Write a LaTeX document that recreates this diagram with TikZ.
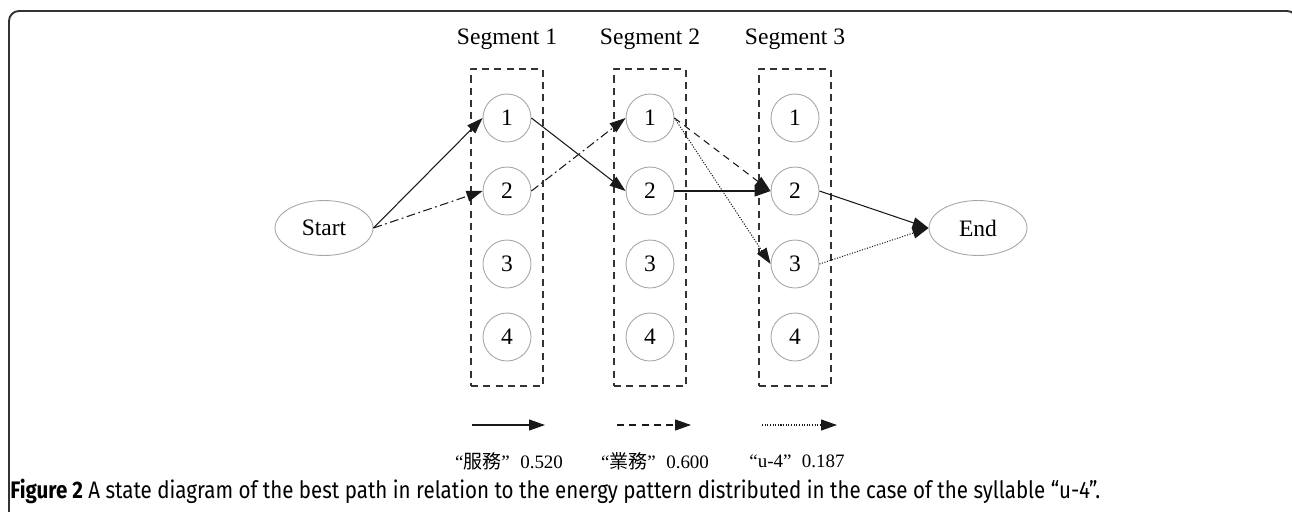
\documentclass[tikz,border=0pt]{standalone}
\usepackage{fontspec}
\setmainfont{Liberation Serif}
\newfontfamily\cjk{Noto Sans CJK TC}
\newfontfamily\capfont[FakeStretch=0.86]{Fira Sans}
\usetikzlibrary{arrows.meta,shapes.geometric}

\begin{document}
\begin{tikzpicture}[x=0.02cm, y=-0.02cm, font=\fontsize{13.4}{16}\selectfont,
        line join=round, >={Triangle[length=0.32cm,width=0.22cm]},
        state/.style={circle, draw=gray!70, line width=0.5pt, minimum size=0.96cm, inner sep=0pt},
        term/.style={ellipse, draw=gray!70, line width=0.5pt, minimum width=1.96cm, minimum height=1.1cm, inner sep=0pt},
        segbox/.style={draw=black!80, line width=0.8pt, dash pattern=on 4pt off 3pt, minimum width=1.44cm, minimum height=6.34cm, inner sep=0pt},
        edge/.style={->, line width=0.6pt, black!90},
        dashdot/.style={dash pattern=on 5pt off 2pt on 1pt off 2pt},
        ldash/.style={dash pattern=on 4pt off 3pt},
        ldot/.style={dash pattern=on 0.6pt off 0.9pt},
        keylab/.style={font=\fontsize{10.8}{13}\selectfont}]
    \useasboundingbox (0,0) rectangle (1292,511);
    % frame round the figure
    \begin{scope}
        \clip (0,0) rectangle (1292,511);
        \draw[line width=1.1pt, black!80, rounded corners=0.2cm] (9,530) -- (9,11) -- (1297,11) -- (1297,530);
    \end{scope}
    % the three segments with their states
    \foreach \s/\x in {1/507, 2/650, 3/795} {
        \node[segbox] (seg\s) at (\x,227.5) {};
        \node (lab\s) at (\x,39) {Segment \s};
        \foreach \r/\y in {1/118, 2/191, 3/264, 4/337}
            \node[state] (s\s\r) at (\x,\y) {\r};
    }
    \node[term] (start) at (324,228) {Start};
    \node[term] (end) at (978,228) {End};
    % paths
    \draw[edge] (start.east) -- (s11.west);
    \draw[edge, dashdot] (start.east) -- (s12.west);
    \draw[edge] (s11.east) -- (s22.west);
    \draw[edge, dashdot] (s12.east) -- (s21.west);
    \draw[edge, ldash] (s21.east) -- (s32.west);
    \draw[edge, ldot] (s21.east) -- (s33.west);
    \draw[edge] (s22.east) -- (s32.west);
    \draw[edge] (s32.east) -- (end.west);
    \draw[edge, ldot] (s33.east) -- (end.west);
    % key
    \coordinate (k1a) at (472,425); \coordinate (k1b) at (545,425);
    \coordinate (k2a) at (617,425); \coordinate (k2b) at (691,425);
    \coordinate (k3a) at (762,425); \coordinate (k3b) at (837,425);
    \draw[edge] (k1a) -- (k1b);
    \draw[edge, ldash] (k2a) -- (k2b);
    \draw[edge, ldot] (k3a) -- (k3b);
    \node[keylab] (key1) at (509,461) {“{\cjk 服務}”\hspace{0.55em}0.520};
    \node[keylab] (key2) at (655,461) {“{\cjk 業務}”\hspace{0.55em}0.600};
    \node[keylab] (key3) at (797,461) {“u-4”\hspace{0.55em}0.187};
    % caption
    \node[anchor=west, inner sep=0pt, font=\capfont\fontsize{13.6}{16}\selectfont] (cap) at (10,491)
        {\textbf{Figure 2} A state diagram of the best path in relation to the energy pattern distributed in the case of the syllable “u-4”.};
\end{tikzpicture}
\end{document}
